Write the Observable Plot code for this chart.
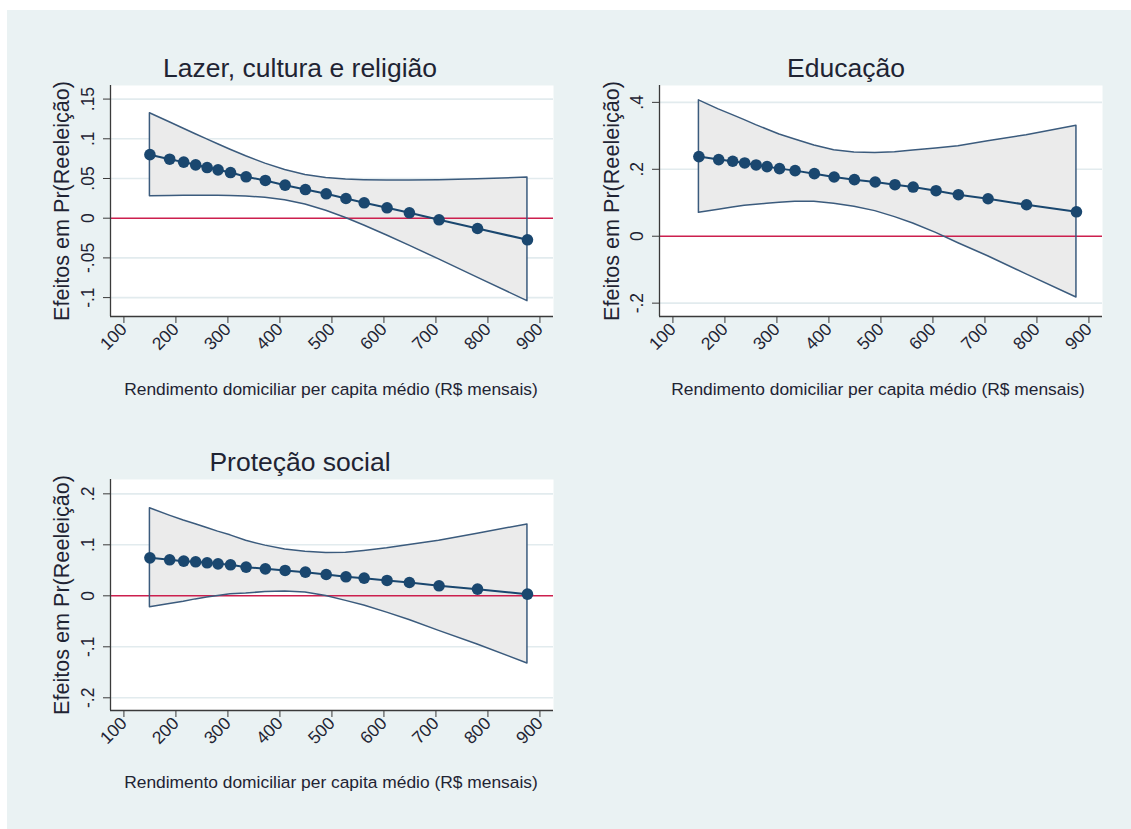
<!DOCTYPE html>
<html>
<head>
<meta charset="utf-8">
<script src="https://cdn.jsdelivr.net/npm/d3@7"></script>
<script src="https://cdn.jsdelivr.net/npm/@observablehq/plot@0.6"></script>
<style>
  html, body { margin: 0; padding: 0; background: #ffffff; }
  body { font-family: "Liberation Sans", Arial, sans-serif; color: #222; }
  #page { position: relative; width: 1131px; height: 829px; overflow: hidden; background: #ffffff; }
  #bg { position: absolute; left: 7px; top: 10px; width: 1124px; height: 819px; background: #eaf2f3; }
  .panel { position: absolute; }
  .title { position: absolute; font-size: 26.5px; color: #1f2433; white-space: nowrap; transform: translate(-50%, -50%); }
  .xlab { position: absolute; font-size: 17.4px; color: #1f2433; white-space: nowrap; transform: translate(-50%, -50%); }
  .ylab { position: absolute; font-size: 21.6px; color: #1f2433; white-space: nowrap; transform: translate(-50%, -50%) rotate(-90deg); }
</style>
</head>
<body>
<div id="page"><div id="bg"></div></div>
<script>
// ---------- data ----------
const titles = ["Lazer, cultura e religião", "Educação", "Proteção social"];
const xTitle = "Rendimento domiciliar per capita médio (R$ mensais)";
const yTitle = "Efeitos em Pr(Reeleição)";

// income values (R$) where margins were evaluated
const income = [150, 188, 215, 238, 260, 281, 305, 335, 372, 410, 449, 489, 527, 562, 606, 649, 706, 780, 876];
const xTicks = [100, 200, 300, 400, 500, 600, 700, 800, 900];

// Lazer, cultura e religião
const lazerEst = [0.080, 0.0743, 0.0706, 0.0672, 0.0638, 0.0609, 0.0575, 0.0521, 0.0475, 0.0416, 0.0361, 0.0307, 0.0248, 0.0194, 0.0131, 0.0068, -0.0020, -0.0130, -0.0272];
const lazerLo  = [0.0275, 0.0280, 0.0282, 0.0283, 0.0284, 0.0283, 0.0280, 0.0272, 0.0257, 0.0226, 0.0173, 0.0094, 0.0002, -0.0092, -0.0218, -0.0346, -0.0519, -0.0748, -0.1045];
const lazerHi  = [0.1322, 0.1208, 0.1126, 0.1057, 0.0992, 0.0931, 0.0862, 0.0780, 0.0687, 0.0606, 0.0545, 0.0506, 0.0486, 0.0478, 0.0474, 0.0474, 0.0479, 0.0490, 0.0512];
const lazerYTicks = [-0.1, -0.05, 0, 0.05, 0.1, 0.15];
const lazerYLabels = ["-.1", "-.05", "0", ".05", ".1", ".15"];

// Educação
const eduEst = [0.238, 0.229, 0.224, 0.219, 0.213, 0.208, 0.202, 0.196, 0.187, 0.177, 0.169, 0.162, 0.154, 0.147, 0.136, 0.124, 0.112, 0.094, 0.073];
const eduLo  = [0.070, 0.079, 0.086, 0.091, 0.094, 0.097, 0.100, 0.103, 0.103, 0.097, 0.088, 0.075, 0.057, 0.038, 0.010, -0.021, -0.060, -0.114, -0.183];
const eduHi  = [0.406, 0.379, 0.362, 0.347, 0.332, 0.319, 0.304, 0.289, 0.271, 0.257, 0.250, 0.249, 0.251, 0.256, 0.262, 0.269, 0.284, 0.302, 0.330];
const eduYTicks = [-0.2, 0, 0.2, 0.4];
const eduYLabels = ["-.2", "0", ".2", ".4"];

// Proteção social
const protEst = [0.0745, 0.0706, 0.068, 0.0667, 0.0647, 0.0627, 0.0608, 0.0562, 0.0529, 0.0497, 0.0464, 0.0418, 0.0373, 0.0346, 0.0301, 0.0261, 0.0196, 0.0131, 0.0033];
const protLo  = [-0.0222, -0.0161, -0.0116, -0.0070, -0.0035, -0.0005, 0.0030, 0.0045, 0.0074, 0.0084, 0.0064, -0.0004, -0.0099, -0.0189, -0.0330, -0.0474, -0.0688, -0.0956, -0.1327];
const protHi  = [0.1718, 0.1573, 0.1476, 0.1404, 0.1329, 0.1259, 0.1186, 0.1079, 0.0984, 0.0910, 0.0864, 0.0840, 0.0845, 0.0881, 0.0932, 0.0996, 0.1080, 0.1218, 0.1400];
const protYTicks = [-0.2, -0.1, 0, 0.1, 0.2];
const protYLabels = ["-.2", "-.1", "0", ".1", ".2"];

// ---------- layout ----------
const xDomain = [74.2, 926.1];
const panels = [
  {title: titles[0], est: lazerEst, lo: lazerLo, hi: lazerHi, yTicks: lazerYTicks, yLabels: lazerYLabels,
   yDomain: [-0.1238, 0.1671], left: 40, top: 80, width: 530, mL: 70, mR: 17,
   titlePos: [300, 68], xlabPos: [331, 389], ylabPos: [62, 201]},
  {title: titles[1], est: eduEst, lo: eduLo, hi: eduHi, yTicks: eduYTicks, yLabels: eduYLabels,
   yDomain: [-0.2399, 0.4504], left: 590, top: 80, width: 531, mL: 69, mR: 19,
   titlePos: [846, 68], xlabPos: [878, 389], ylabPos: [612, 201]},
  {title: titles[2], est: protEst, lo: protLo, hi: protHi, yTicks: protYTicks, yLabels: protYLabels,
   yDomain: [-0.2249, 0.2281], left: 40, top: 474, width: 530, mL: 70, mR: 17,
   titlePos: [300, 462], xlabPos: [331, 782], ylabPos: [62, 595]}
];

const navy = "#1a476f";
const page = document.getElementById("page");

function addText(cls, txt, pos) {
  const d = document.createElement("div");
  d.className = cls;
  d.textContent = txt;
  d.style.left = pos[0] + "px";
  d.style.top = pos[1] + "px";
  page.appendChild(d);
}

for (const p of panels) {
  const data = income.map((x, i) => ({x, est: p.est[i], lo: p.lo[i], hi: p.hi[i]}));
  const yt = p.yTicks.map((v, i) => ({v, label: p.yLabels[i]}));
  const chart = Plot.plot({
    width: p.width,
    height: 330,
    marginLeft: p.mL,
    marginRight: p.mR,
    marginTop: 5,
    marginBottom: 94,
    style: {background: "transparent", fontFamily: "'Liberation Sans', Arial, sans-serif", fontSize: "17.5px", color: "#1f2433", overflow: "visible"},
    x: {domain: xDomain, axis: null},
    y: {domain: p.yDomain, axis: null},
    marks: [
      Plot.frame({fill: "white", stroke: null}),
      Plot.gridY(p.yTicks.filter(v => v !== 0), {stroke: "#e2ebee", strokeOpacity: 1, strokeWidth: 1.6}),
      Plot.areaY(data, {x: "x", y1: "lo", y2: "hi", fill: "#ebebeb", stroke: null}),
      Plot.ruleY([0], {stroke: "#cc1f4e", strokeWidth: 1.6}),
      Plot.areaY(data, {x: "x", y1: "lo", y2: "hi", fill: "none", stroke: "#3b5b7d", strokeWidth: 1.5}),
      Plot.line(data, {x: "x", y: "est", stroke: navy, strokeWidth: 2}),
      Plot.dot(data, {x: "x", y: "est", r: 5.8, fill: navy, stroke: null}),
      Plot.ruleX([xDomain[0]], {stroke: "#3a3a3a", strokeWidth: 1.3}),
      Plot.ruleY([p.yDomain[0]], {stroke: "#3a3a3a", strokeWidth: 1.3}),
      Plot.axisX(xTicks, {tickSize: 7, tickRotate: -45, tickPadding: 3, label: null, stroke: "#3a3a3a", tickFormat: d => String(d), fontSize: 17.5}),
      Plot.axisY(p.yTicks, {tickSize: 7, label: null, stroke: "#3a3a3a", tickFormat: () => ""}),
      Plot.text(yt, {y: "v", text: "label", frameAnchor: "left", rotate: -90, dx: -22, textAnchor: "middle", lineAnchor: "middle", fontSize: 17.5})
    ]
  });
  chart.classList.add("panel");
  chart.style.left = p.left + "px";
  chart.style.top = p.top + "px";
  page.appendChild(chart);
  addText("title", p.title, p.titlePos);
  addText("xlab", xTitle, p.xlabPos);
  addText("ylab", yTitle, p.ylabPos);
}
</script>
</body>
</html>
